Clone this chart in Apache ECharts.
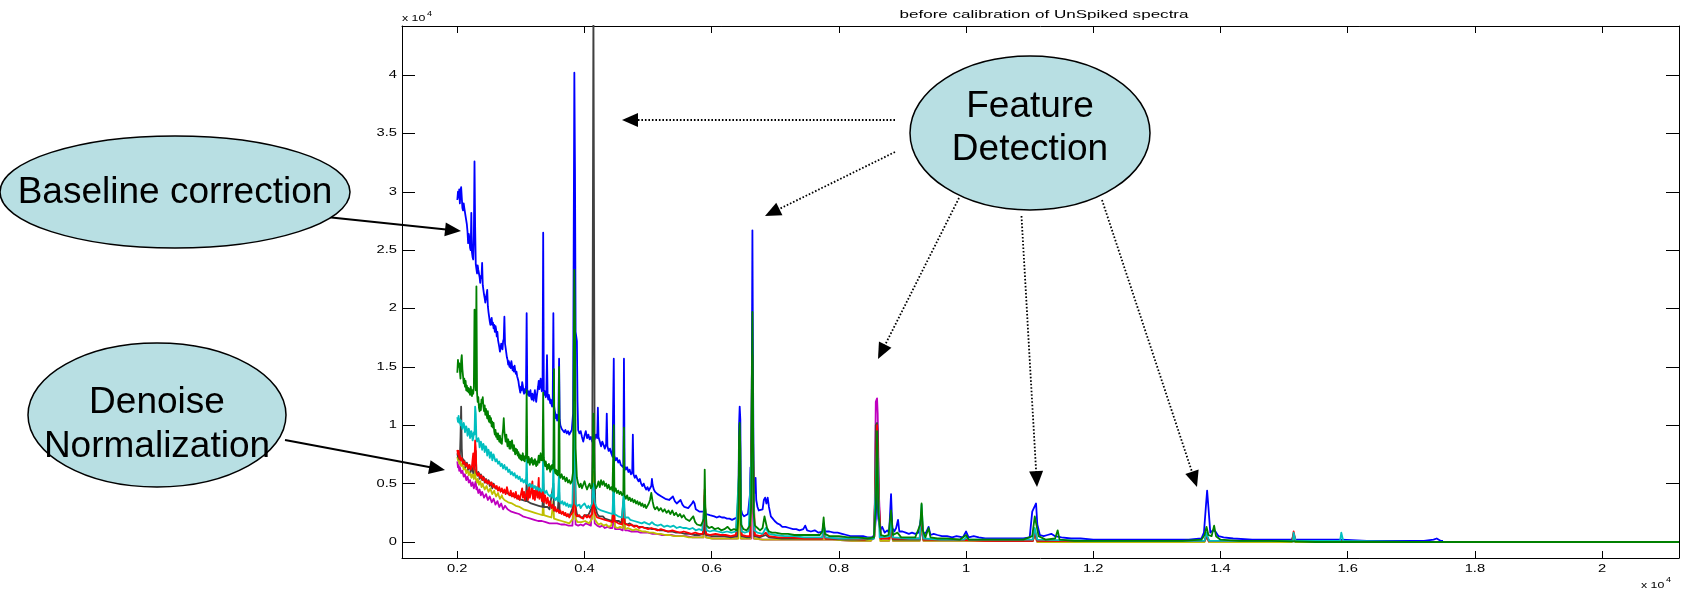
<!DOCTYPE html>
<html>
<head>
<meta charset="utf-8">
<script src="https://cdn.jsdelivr.net/npm/echarts@6/dist/echarts.min.js"></script>
<style>
  html, body { margin: 0; padding: 0; background: #ffffff; }
  #chart { width: 1681px; height: 591px; }
</style>
</head>
<body>
<div id="chart"></div>
<script>
// Spectra intensities, x in units of 1e4 (m/z), y in units of 1e4 (intensity)
const blueSpectrum = [
[0.200,2.93],[0.201,3.00],[0.202,2.95],[0.203,3.02],[0.204,2.90],[0.205,3.01],[0.206,3.04],[0.207,2.95],[0.208,2.86],[0.209,2.84],[0.210,2.90],[0.211,2.86],[0.213,2.79],[0.214,2.80],[0.215,2.72],[0.216,2.66],[0.217,2.56],[0.218,2.64],[0.219,2.60],[0.220,2.52],[0.221,2.50],[0.222,2.82],[0.223,2.48],[0.224,2.44],[0.225,2.42],[0.226,2.62],[0.227,3.26],[0.228,2.70],[0.229,2.38],[0.230,2.34],[0.231,2.30],[0.232,2.37],[0.233,2.33],[0.235,2.27],[0.236,2.22],[0.237,2.28],[0.238,2.26],[0.239,2.39],[0.240,2.20],[0.241,2.16],[0.242,2.12],[0.243,2.09],[0.244,2.05],[0.245,2.09],[0.246,2.12],[0.247,2.16],[0.248,2.02],[0.249,1.97],[0.250,1.93],[0.251,1.89],[0.252,1.86],[0.253,1.90],[0.254,1.92],[0.255,1.86],[0.256,1.88],[0.257,1.83],[0.258,1.86],[0.259,1.80],[0.260,1.85],[0.261,1.82],[0.262,1.76],[0.263,1.80],[0.264,1.73],[0.265,1.70],[0.266,1.67],[0.267,1.63],[0.268,1.66],[0.269,1.70],[0.270,1.68],[0.271,1.65],[0.272,1.72],[0.273,1.74],[0.274,1.93],[0.275,1.70],[0.276,1.66],[0.277,1.62],[0.278,1.58],[0.279,1.56],[0.280,1.52],[0.281,1.55],[0.282,1.50],[0.283,1.53],[0.284,1.49],[0.285,1.55],[0.286,1.51],[0.287,1.47],[0.288,1.50],[0.289,1.46],[0.290,1.51],[0.291,1.47],[0.292,1.44],[0.293,1.46],[0.294,1.42],[0.295,1.40],[0.296,1.38],[0.297,1.34],[0.298,1.31],[0.299,1.28],[0.300,1.33],[0.301,1.30],[0.302,1.37],[0.303,1.34],[0.304,1.29],[0.305,1.27],[0.306,1.31],[0.307,1.28],[0.308,1.34],[0.309,1.96],[0.310,1.30],[0.311,1.26],[0.312,1.29],[0.313,1.25],[0.314,1.27],[0.315,1.30],[0.316,1.24],[0.317,1.22],[0.318,1.27],[0.319,1.25],[0.320,1.21],[0.321,1.26],[0.322,1.30],[0.323,1.24],[0.324,1.20],[0.325,1.25],[0.326,1.29],[0.327,1.33],[0.328,1.38],[0.329,1.31],[0.330,1.36],[0.331,1.40],[0.332,1.33],[0.333,1.29],[0.334,1.34],[0.335,2.65],[0.336,1.30],[0.337,1.26],[0.338,1.29],[0.339,1.24],[0.340,1.28],[0.341,1.60],[0.342,1.25],[0.343,1.22],[0.344,1.26],[0.345,1.23],[0.346,1.19],[0.347,1.22],[0.348,1.18],[0.349,1.16],[0.350,1.20],[0.351,1.96],[0.352,1.17],[0.353,1.13],[0.354,1.10],[0.355,1.06],[0.356,1.09],[0.357,1.04],[0.358,1.07],[0.359,1.10],[0.360,1.57],[0.361,1.05],[0.362,1.00],[0.364,0.97],[0.366,0.98],[0.368,0.94],[0.370,0.96],[0.372,0.93],[0.374,0.95],[0.376,0.92],[0.378,0.94],[0.380,0.96],[0.382,1.10],[0.383,2.60],[0.384,4.02],[0.385,3.20],[0.386,1.80],[0.388,1.72],[0.389,1.20],[0.390,0.96],[0.392,0.93],[0.394,0.95],[0.396,0.90],[0.398,0.86],[0.400,0.91],[0.402,0.95],[0.404,0.89],[0.406,0.92],[0.408,0.88],[0.410,0.90],[0.412,0.86],[0.414,0.95],[0.416,0.88],[0.418,0.92],[0.420,0.89],[0.421,1.15],[0.422,0.90],[0.424,0.86],[0.426,0.82],[0.428,0.86],[0.430,0.83],[0.432,0.80],[0.434,0.84],[0.435,1.10],[0.436,0.82],[0.438,0.78],[0.440,0.80],[0.442,0.76],[0.444,0.73],[0.446,1.57],[0.447,0.74],[0.449,0.70],[0.451,0.72],[0.453,0.68],[0.455,0.70],[0.457,0.66],[0.459,0.67],[0.461,0.64],[0.462,1.57],[0.463,0.65],[0.465,0.62],[0.467,0.64],[0.469,0.60],[0.471,0.62],[0.473,0.58],[0.475,0.60],[0.476,0.92],[0.477,0.58],[0.479,0.55],[0.481,0.57],[0.483,0.54],[0.485,0.52],[0.487,0.54],[0.489,0.50],[0.491,0.48],[0.493,0.50],[0.495,0.47],[0.497,0.45],[0.499,0.47],[0.501,0.44],[0.503,0.46],[0.505,0.48],[0.506,0.54],[0.507,0.49],[0.509,0.45],[0.511,0.43],[0.513,0.44],[0.515,0.41],[0.518,0.42],[0.521,0.39],[0.524,0.40],[0.527,0.37],[0.530,0.38],[0.533,0.36],[0.536,0.37],[0.539,0.39],[0.542,0.35],[0.545,0.33],[0.548,0.34],[0.551,0.36],[0.554,0.32],[0.557,0.30],[0.560,0.31],[0.563,0.29],[0.566,0.30],[0.569,0.33],[0.571,0.35],[0.573,0.33],[0.575,0.28],[0.578,0.27],[0.581,0.26],[0.584,0.25],[0.587,0.26],[0.590,0.27],[0.591,0.24],[0.594,0.24],[0.597,0.23],[0.600,0.23],[0.604,0.22],[0.608,0.21],[0.612,0.22],[0.616,0.21],[0.620,0.21],[0.624,0.20],[0.628,0.20],[0.632,0.19],[0.636,0.20],[0.640,0.21],[0.642,0.30],[0.643,1.00],[0.644,1.16],[0.645,1.05],[0.646,0.28],[0.648,0.24],[0.651,0.22],[0.654,0.22],[0.657,0.24],[0.660,0.40],[0.661,0.64],[0.662,0.45],[0.663,1.30],[0.664,2.67],[0.665,1.40],[0.666,0.50],[0.668,0.42],[0.669,0.55],[0.670,0.36],[0.672,0.30],[0.674,0.27],[0.677,0.26],[0.680,0.28],[0.682,0.36],[0.684,0.38],[0.686,0.33],[0.688,0.38],[0.690,0.30],[0.693,0.22],[0.696,0.20],[0.699,0.18],[0.703,0.16],[0.707,0.15],[0.711,0.13],[0.716,0.13],[0.722,0.12],[0.728,0.11],[0.733,0.11],[0.738,0.10],[0.744,0.11],[0.747,0.14],[0.750,0.10],[0.756,0.09],[0.762,0.10],[0.768,0.08],[0.774,0.09],[0.776,0.16],[0.778,0.09],[0.785,0.09],[0.792,0.08],[0.798,0.08],[0.805,0.07],[0.812,0.06],[0.818,0.05],[0.825,0.05],[0.832,0.05],[0.838,0.05],[0.845,0.04],[0.852,0.04],[0.856,0.06],[0.858,0.20],[0.860,0.55],[0.862,0.20],[0.865,0.10],[0.868,0.13],[0.872,0.08],[0.876,0.10],[0.879,0.08],[0.882,0.41],[0.884,0.12],[0.887,0.09],[0.890,0.12],[0.893,0.19],[0.895,0.09],[0.900,0.09],[0.905,0.08],[0.910,0.07],[0.915,0.08],[0.920,0.07],[0.925,0.08],[0.929,0.20],[0.932,0.07],[0.937,0.08],[0.941,0.13],[0.944,0.06],[0.949,0.07],[0.955,0.06],[0.962,0.05],[0.970,0.05],[0.978,0.04],[0.985,0.05],[0.995,0.04],[1.000,0.09],[1.004,0.04],[1.012,0.05],[1.020,0.04],[1.030,0.03],[1.045,0.03],[1.060,0.03],[1.075,0.03],[1.090,0.03],[1.100,0.04],[1.104,0.26],[1.107,0.27],[1.110,0.33],[1.112,0.15],[1.116,0.06],[1.122,0.05],[1.128,0.06],[1.134,0.07],[1.140,0.05],[1.150,0.04],[1.165,0.03],[1.180,0.03],[1.200,0.02],[1.230,0.02],[1.260,0.02],[1.290,0.02],[1.320,0.02],[1.350,0.02],[1.370,0.03],[1.374,0.08],[1.377,0.30],[1.379,0.44],[1.381,0.30],[1.384,0.08],[1.388,0.10],[1.392,0.09],[1.397,0.05],[1.405,0.04],[1.420,0.03],[1.450,0.02],[1.480,0.02],[1.515,0.02],[1.550,0.02],[1.590,0.02],[1.630,0.01],[1.680,0.01],[1.720,0.01],[1.735,0.02],[1.740,0.03],[1.746,0.01],[1.750,0.01]
];

const magentaSpectrum = [
[0.200,0.69],[0.201,0.64],[0.202,0.66],[0.203,0.61],[0.204,0.64],[0.205,0.63],[0.206,0.59],[0.207,0.58],[0.208,0.61],[0.209,0.60],[0.210,0.56],[0.211,0.55],[0.212,0.58],[0.213,0.57],[0.214,0.53],[0.215,0.53],[0.216,0.56],[0.217,0.54],[0.218,0.51],[0.219,0.50],[0.220,0.53],[0.221,0.52],[0.222,0.48],[0.223,0.48],[0.224,0.51],[0.225,0.50],[0.226,0.46],[0.227,0.46],[0.229,0.52],[0.230,0.45],[0.231,0.47],[0.232,0.46],[0.233,0.42],[0.234,0.43],[0.235,0.45],[0.236,0.44],[0.237,0.40],[0.238,0.41],[0.239,0.43],[0.240,0.42],[0.242,0.38],[0.243,0.39],[0.245,0.41],[0.246,0.40],[0.248,0.36],[0.249,0.37],[0.251,0.39],[0.252,0.38],[0.254,0.34],[0.255,0.35],[0.257,0.37],[0.258,0.36],[0.260,0.32],[0.261,0.33],[0.263,0.35],[0.264,0.34],[0.266,0.30],[0.267,0.31],[0.269,0.33],[0.270,0.32],[0.272,0.28],[0.273,0.29],[0.275,0.31],[0.276,0.30],[0.279,0.28],[0.282,0.28],[0.285,0.26],[0.288,0.27],[0.291,0.25],[0.294,0.25],[0.297,0.24],[0.300,0.24],[0.303,0.22],[0.306,0.23],[0.309,0.21],[0.312,0.22],[0.315,0.20],[0.318,0.21],[0.321,0.19],[0.324,0.20],[0.327,0.18],[0.330,0.19],[0.333,0.18],[0.336,0.18],[0.339,0.17],[0.342,0.17],[0.345,0.16],[0.348,0.17],[0.351,0.16],[0.354,0.15],[0.357,0.16],[0.360,0.15],[0.363,0.15],[0.366,0.14],[0.369,0.15],[0.372,0.14],[0.375,0.14],[0.378,0.13],[0.381,0.14],[0.384,0.60],[0.386,0.15],[0.390,0.14],[0.394,0.15],[0.398,0.14],[0.402,0.16],[0.406,0.15],[0.410,0.14],[0.413,0.14],[0.414,0.50],[0.416,0.16],[0.420,0.14],[0.424,0.13],[0.428,0.14],[0.432,0.12],[0.436,0.13],[0.440,0.12],[0.444,0.12],[0.446,0.25],[0.448,0.11],[0.452,0.11],[0.456,0.11],[0.460,0.10],[0.462,0.22],[0.464,0.10],[0.468,0.10],[0.473,0.09],[0.478,0.09],[0.483,0.09],[0.488,0.08],[0.494,0.08],[0.500,0.08],[0.507,0.07],[0.514,0.07],[0.521,0.06],[0.528,0.06],[0.536,0.06],[0.544,0.05],[0.552,0.05],[0.560,0.05],[0.570,0.04],[0.580,0.04],[0.587,0.04],[0.589,0.20],[0.591,0.04],[0.602,0.03],[0.615,0.03],[0.628,0.03],[0.640,0.03],[0.642,0.03],[0.644,0.40],[0.646,0.03],[0.655,0.03],[0.662,0.03],[0.664,0.90],[0.666,0.03],[0.680,0.02],[0.700,0.02],[0.730,0.02],[0.760,0.02],[0.790,0.02],[0.820,0.01],[0.850,0.01],[0.856,0.05],[0.857,0.70],[0.858,1.20],[0.860,1.23],[0.861,1.10],[0.863,0.40],[0.866,0.01],[0.879,0.01],[0.882,0.08],[0.885,0.01],[0.927,0.01],[0.930,0.12],[0.933,0.01],[1.000,0.01],[1.104,0.01],[1.108,0.05],[1.112,0.00],[1.374,0.00],[1.378,0.04],[1.382,0.00],[1.512,0.00],[1.515,0.04],[1.518,0.00],[1.700,0.00],[1.890,0.00]
];

const yellowSpectrum = [
[0.200,0.73],[0.201,0.70],[0.202,0.72],[0.203,0.67],[0.204,0.70],[0.205,0.69],[0.206,0.65],[0.207,0.64],[0.208,0.67],[0.209,0.65],[0.210,0.62],[0.211,0.61],[0.212,0.64],[0.213,0.63],[0.214,0.59],[0.215,0.59],[0.216,0.62],[0.217,0.60],[0.218,0.57],[0.219,0.57],[0.220,0.60],[0.221,0.58],[0.222,0.55],[0.223,0.55],[0.224,0.58],[0.225,0.57],[0.226,0.54],[0.227,0.53],[0.228,0.62],[0.229,0.54],[0.230,0.53],[0.231,0.51],[0.232,0.54],[0.233,0.52],[0.234,0.49],[0.235,0.49],[0.236,0.52],[0.237,0.50],[0.238,0.47],[0.239,0.47],[0.240,0.50],[0.241,0.48],[0.243,0.45],[0.244,0.45],[0.246,0.48],[0.247,0.46],[0.249,0.43],[0.250,0.43],[0.252,0.46],[0.253,0.44],[0.255,0.41],[0.256,0.41],[0.258,0.44],[0.259,0.42],[0.261,0.39],[0.262,0.39],[0.264,0.42],[0.265,0.40],[0.267,0.37],[0.268,0.37],[0.270,0.40],[0.271,0.38],[0.274,0.36],[0.277,0.36],[0.280,0.34],[0.283,0.35],[0.286,0.33],[0.289,0.33],[0.292,0.31],[0.295,0.32],[0.298,0.30],[0.301,0.30],[0.304,0.28],[0.307,0.29],[0.310,0.27],[0.313,0.27],[0.316,0.26],[0.319,0.26],[0.322,0.25],[0.325,0.25],[0.328,0.24],[0.331,0.24],[0.334,0.23],[0.335,0.40],[0.336,0.23],[0.339,0.22],[0.342,0.22],[0.345,0.21],[0.348,0.21],[0.351,0.35],[0.352,0.20],[0.355,0.20],[0.358,0.19],[0.361,0.19],[0.364,0.18],[0.367,0.18],[0.370,0.17],[0.373,0.17],[0.376,0.16],[0.379,0.16],[0.382,0.20],[0.384,0.70],[0.386,0.20],[0.389,0.17],[0.392,0.16],[0.395,0.17],[0.398,0.16],[0.401,0.18],[0.404,0.17],[0.407,0.16],[0.410,0.17],[0.412,0.20],[0.414,0.60],[0.416,0.20],[0.419,0.17],[0.422,0.15],[0.426,0.16],[0.430,0.14],[0.434,0.15],[0.438,0.13],[0.442,0.14],[0.446,0.30],[0.448,0.13],[0.452,0.12],[0.456,0.13],[0.460,0.12],[0.462,0.28],[0.464,0.11],[0.468,0.12],[0.472,0.11],[0.476,0.10],[0.481,0.11],[0.486,0.10],[0.491,0.09],[0.496,0.09],[0.502,0.08],[0.508,0.08],[0.514,0.07],[0.520,0.07],[0.527,0.06],[0.534,0.06],[0.541,0.05],[0.548,0.05],[0.556,0.05],[0.564,0.04],[0.572,0.04],[0.580,0.04],[0.587,0.04],[0.589,0.25],[0.591,0.04],[0.600,0.03],[0.612,0.03],[0.624,0.03],[0.636,0.03],[0.642,0.03],[0.644,0.50],[0.646,0.03],[0.655,0.03],[0.661,0.03],[0.663,0.70],[0.664,1.00],[0.665,0.50],[0.667,0.03],[0.680,0.02],[0.700,0.02],[0.730,0.02],[0.760,0.02],[0.790,0.02],[0.820,0.01],[0.850,0.01],[0.856,0.05],[0.858,0.70],[0.860,0.95],[0.862,0.40],[0.865,0.01],[0.879,0.01],[0.882,0.10],[0.885,0.01],[0.927,0.01],[0.930,0.15],[0.933,0.01],[1.000,0.01],[1.105,0.01],[1.108,0.06],[1.112,0.00],[1.375,0.00],[1.378,0.05],[1.382,0.00],[1.512,0.00],[1.515,0.05],[1.518,0.00],[1.700,0.00],[1.890,0.00]
];

const graySpectrum = [
[0.200,0.76],[0.201,0.73],[0.202,0.75],[0.203,0.71],[0.204,0.73],[0.205,0.90],[0.206,1.16],[0.207,0.80],[0.208,0.69],[0.209,0.71],[0.210,0.67],[0.211,0.70],[0.212,0.68],[0.213,0.64],[0.214,0.65],[0.215,0.68],[0.216,0.66],[0.217,0.62],[0.218,0.63],[0.219,0.66],[0.220,0.64],[0.221,0.60],[0.222,0.61],[0.223,0.64],[0.224,0.63],[0.225,0.59],[0.226,0.60],[0.228,0.70],[0.229,0.78],[0.230,0.59],[0.231,0.60],[0.232,0.57],[0.233,0.60],[0.234,0.58],[0.235,0.54],[0.236,0.55],[0.237,0.58],[0.238,0.56],[0.239,0.53],[0.240,0.54],[0.241,0.56],[0.242,0.55],[0.243,0.51],[0.244,0.52],[0.245,0.54],[0.246,0.53],[0.247,0.50],[0.248,0.51],[0.249,0.53],[0.250,0.52],[0.251,0.48],[0.252,0.49],[0.253,0.51],[0.254,0.50],[0.255,0.46],[0.256,0.48],[0.257,0.50],[0.258,0.49],[0.260,0.46],[0.263,0.47],[0.266,0.45],[0.269,0.46],[0.272,0.43],[0.275,0.44],[0.278,0.42],[0.281,0.43],[0.284,0.40],[0.287,0.41],[0.290,0.39],[0.293,0.40],[0.296,0.37],[0.299,0.38],[0.302,0.36],[0.305,0.37],[0.308,0.35],[0.309,0.55],[0.310,0.35],[0.313,0.34],[0.316,0.33],[0.319,0.34],[0.322,0.32],[0.325,0.33],[0.328,0.31],[0.331,0.32],[0.334,0.30],[0.335,0.60],[0.336,0.30],[0.339,0.29],[0.342,0.30],[0.345,0.28],[0.348,0.29],[0.351,0.50],[0.352,0.27],[0.355,0.26],[0.358,0.27],[0.360,0.45],[0.361,0.25],[0.364,0.24],[0.367,0.25],[0.370,0.23],[0.373,0.24],[0.376,0.22],[0.379,0.23],[0.382,0.30],[0.383,0.90],[0.384,1.40],[0.385,1.00],[0.386,0.30],[0.388,0.24],[0.391,0.22],[0.394,0.23],[0.397,0.21],[0.400,0.23],[0.403,0.22],[0.406,0.23],[0.409,0.22],[0.412,0.30],[0.413,2.50],[0.414,4.60],[0.415,4.60],[0.416,0.60],[0.417,0.30],[0.420,0.24],[0.423,0.22],[0.426,0.21],[0.429,0.22],[0.432,0.20],[0.435,0.21],[0.438,0.19],[0.441,0.20],[0.444,0.18],[0.446,0.50],[0.447,0.18],[0.450,0.17],[0.454,0.18],[0.458,0.16],[0.462,0.40],[0.463,0.16],[0.467,0.15],[0.471,0.16],[0.475,0.14],[0.480,0.14],[0.485,0.13],[0.490,0.13],[0.495,0.12],[0.500,0.12],[0.506,0.11],[0.512,0.11],[0.518,0.10],[0.524,0.10],[0.530,0.09],[0.537,0.09],[0.544,0.08],[0.551,0.08],[0.558,0.07],[0.565,0.07],[0.572,0.06],[0.580,0.06],[0.588,0.07],[0.589,0.40],[0.591,0.06],[0.600,0.05],[0.610,0.05],[0.620,0.05],[0.630,0.04],[0.640,0.05],[0.643,0.60],[0.644,0.90],[0.645,0.40],[0.647,0.05],[0.655,0.04],[0.660,0.04],[0.662,0.80],[0.663,1.40],[0.664,1.60],[0.665,0.90],[0.667,0.05],[0.675,0.04],[0.685,0.06],[0.690,0.04],[0.710,0.03],[0.730,0.03],[0.760,0.03],[0.774,0.03],[0.776,0.10],[0.779,0.03],[0.810,0.02],[0.840,0.02],[0.855,0.03],[0.857,0.40],[0.858,1.00],[0.860,1.02],[0.861,0.95],[0.863,0.30],[0.866,0.03],[0.879,0.03],[0.882,0.12],[0.885,0.02],[0.927,0.02],[0.930,0.20],[0.933,0.02],[0.990,0.02],[1.050,0.01],[1.105,0.01],[1.108,0.08],[1.112,0.01],[1.250,0.01],[1.375,0.01],[1.378,0.05],[1.382,0.01],[1.500,0.01],[1.512,0.01],[1.515,0.07],[1.518,0.01],[1.700,0.00],[1.890,0.00]
];

const redSpectrum = [
[0.200,0.79],[0.201,0.75],[0.202,0.78],[0.203,0.72],[0.204,0.74],[0.205,0.70],[0.207,0.72],[0.209,0.67],[0.211,0.69],[0.213,0.65],[0.215,0.67],[0.217,0.63],[0.219,0.66],[0.221,0.62],[0.223,0.65],[0.225,0.76],[0.226,0.62],[0.227,0.70],[0.228,0.87],[0.229,0.80],[0.230,0.60],[0.232,0.57],[0.234,0.59],[0.236,0.55],[0.238,0.57],[0.240,0.53],[0.242,0.55],[0.244,0.51],[0.246,0.53],[0.248,0.50],[0.250,0.52],[0.252,0.49],[0.254,0.51],[0.256,0.47],[0.258,0.49],[0.260,0.46],[0.262,0.48],[0.264,0.44],[0.266,0.47],[0.268,0.43],[0.270,0.46],[0.272,0.42],[0.274,0.45],[0.276,0.41],[0.278,0.47],[0.280,0.42],[0.282,0.40],[0.284,0.44],[0.286,0.39],[0.288,0.42],[0.290,0.38],[0.292,0.43],[0.294,0.37],[0.296,0.40],[0.298,0.36],[0.300,0.41],[0.302,0.46],[0.303,0.38],[0.305,0.43],[0.306,0.36],[0.308,0.40],[0.310,0.44],[0.311,0.36],[0.313,0.48],[0.314,0.38],[0.316,0.42],[0.318,0.52],[0.319,0.37],[0.321,0.44],[0.322,0.36],[0.324,0.47],[0.326,0.38],[0.328,0.55],[0.329,0.37],[0.331,0.43],[0.333,0.35],[0.335,0.50],[0.336,0.34],[0.338,0.40],[0.340,0.33],[0.342,0.38],[0.344,0.31],[0.346,0.35],[0.348,0.29],[0.350,0.32],[0.352,0.27],[0.354,0.30],[0.356,0.26],[0.358,0.28],[0.360,0.25],[0.362,0.27],[0.364,0.24],[0.366,0.26],[0.368,0.23],[0.370,0.25],[0.372,0.22],[0.374,0.24],[0.376,0.21],[0.378,0.23],[0.380,0.22],[0.382,0.26],[0.383,0.60],[0.384,0.90],[0.385,0.50],[0.386,0.24],[0.388,0.22],[0.390,0.21],[0.392,0.23],[0.394,0.21],[0.396,0.22],[0.398,0.20],[0.400,0.23],[0.402,0.24],[0.404,0.21],[0.406,0.23],[0.408,0.21],[0.410,0.22],[0.412,0.24],[0.414,0.40],[0.416,0.26],[0.418,0.23],[0.420,0.21],[0.423,0.22],[0.426,0.20],[0.429,0.21],[0.432,0.19],[0.435,0.20],[0.438,0.18],[0.441,0.19],[0.444,0.17],[0.446,0.40],[0.447,0.18],[0.450,0.17],[0.453,0.16],[0.456,0.17],[0.459,0.15],[0.462,0.35],[0.463,0.16],[0.466,0.15],[0.470,0.14],[0.474,0.15],[0.478,0.13],[0.482,0.14],[0.486,0.12],[0.490,0.13],[0.495,0.12],[0.500,0.11],[0.505,0.12],[0.510,0.11],[0.515,0.10],[0.520,0.11],[0.526,0.10],[0.532,0.09],[0.538,0.10],[0.544,0.09],[0.550,0.08],[0.556,0.09],[0.562,0.08],[0.568,0.07],[0.574,0.08],[0.580,0.07],[0.586,0.07],[0.589,0.45],[0.591,0.07],[0.598,0.06],[0.606,0.07],[0.614,0.06],[0.622,0.06],[0.630,0.05],[0.638,0.06],[0.643,0.50],[0.644,0.70],[0.645,0.30],[0.647,0.06],[0.655,0.05],[0.660,0.05],[0.662,0.60],[0.664,1.10],[0.666,0.40],[0.668,0.06],[0.676,0.05],[0.685,0.08],[0.690,0.05],[0.705,0.04],[0.725,0.04],[0.745,0.03],[0.765,0.03],[0.774,0.03],[0.776,0.12],[0.779,0.03],[0.810,0.03],[0.840,0.02],[0.855,0.04],[0.858,0.60],[0.860,1.00],[0.862,0.50],[0.865,0.03],[0.879,0.03],[0.882,0.15],[0.885,0.03],[0.927,0.03],[0.930,0.25],[0.933,0.02],[0.980,0.02],[1.030,0.01],[1.105,0.01],[1.108,0.10],[1.112,0.01],[1.200,0.01],[1.300,0.01],[1.375,0.01],[1.378,0.06],[1.382,0.01],[1.460,0.01],[1.513,0.01],[1.515,0.09],[1.518,0.01],[1.600,0.00],[1.750,0.00],[1.890,0.00]
];

const cyanSpectrum = [
[0.200,1.07],[0.201,1.03],[0.202,1.08],[0.203,1.02],[0.204,1.05],[0.205,1.00],[0.206,1.04],[0.207,1.03],[0.208,0.97],[0.209,0.98],[0.210,1.02],[0.211,1.00],[0.212,0.94],[0.213,0.95],[0.214,0.99],[0.215,0.97],[0.216,0.91],[0.217,0.93],[0.218,0.97],[0.219,0.95],[0.220,0.89],[0.221,0.91],[0.222,0.95],[0.223,0.93],[0.224,0.87],[0.225,0.89],[0.226,0.94],[0.227,0.92],[0.228,1.16],[0.229,1.10],[0.230,0.88],[0.231,0.86],[0.232,0.85],[0.233,0.89],[0.234,0.87],[0.235,0.81],[0.236,0.82],[0.237,0.86],[0.238,0.84],[0.239,0.79],[0.240,0.80],[0.241,0.84],[0.242,0.82],[0.243,0.77],[0.244,0.78],[0.245,0.82],[0.246,0.80],[0.247,0.74],[0.248,0.75],[0.249,0.79],[0.250,0.77],[0.251,0.72],[0.252,0.73],[0.253,0.77],[0.254,0.75],[0.255,0.70],[0.256,0.71],[0.257,0.75],[0.258,0.73],[0.260,0.69],[0.262,0.71],[0.264,0.67],[0.266,0.69],[0.268,0.65],[0.270,0.67],[0.272,0.63],[0.274,0.66],[0.276,0.62],[0.278,0.64],[0.280,0.60],[0.282,0.62],[0.284,0.58],[0.286,0.60],[0.288,0.57],[0.290,0.59],[0.292,0.55],[0.294,0.57],[0.296,0.54],[0.298,0.56],[0.300,0.52],[0.302,0.54],[0.304,0.51],[0.306,0.53],[0.308,0.50],[0.309,0.75],[0.310,0.50],[0.312,0.48],[0.314,0.50],[0.316,0.47],[0.318,0.49],[0.320,0.46],[0.322,0.48],[0.324,0.45],[0.326,0.47],[0.328,0.44],[0.330,0.46],[0.332,0.43],[0.334,0.45],[0.335,0.80],[0.336,0.44],[0.338,0.42],[0.340,0.44],[0.342,0.41],[0.344,0.42],[0.346,0.39],[0.348,0.41],[0.350,0.38],[0.351,0.70],[0.352,0.38],[0.354,0.36],[0.356,0.38],[0.358,0.35],[0.360,0.60],[0.361,0.35],[0.363,0.33],[0.365,0.35],[0.367,0.32],[0.369,0.34],[0.371,0.31],[0.373,0.33],[0.375,0.30],[0.377,0.32],[0.379,0.30],[0.381,0.33],[0.383,0.80],[0.384,1.20],[0.385,0.60],[0.386,0.33],[0.388,0.31],[0.390,0.30],[0.392,0.32],[0.394,0.29],[0.396,0.31],[0.398,0.30],[0.400,0.33],[0.402,0.31],[0.404,0.29],[0.406,0.31],[0.408,0.29],[0.410,0.31],[0.412,0.33],[0.414,0.50],[0.416,0.34],[0.418,0.31],[0.420,0.29],[0.423,0.28],[0.426,0.27],[0.429,0.28],[0.432,0.26],[0.435,0.27],[0.438,0.25],[0.441,0.26],[0.444,0.24],[0.446,0.55],[0.447,0.24],[0.450,0.23],[0.453,0.22],[0.456,0.23],[0.459,0.21],[0.462,0.45],[0.463,0.21],[0.466,0.20],[0.469,0.21],[0.472,0.19],[0.475,0.20],[0.478,0.18],[0.481,0.19],[0.484,0.17],[0.487,0.18],[0.490,0.16],[0.494,0.17],[0.498,0.16],[0.502,0.15],[0.506,0.17],[0.510,0.15],[0.515,0.14],[0.520,0.15],[0.525,0.13],[0.530,0.14],[0.535,0.13],[0.540,0.14],[0.545,0.12],[0.550,0.13],[0.555,0.12],[0.560,0.12],[0.565,0.11],[0.570,0.12],[0.575,0.10],[0.580,0.11],[0.585,0.10],[0.587,0.10],[0.589,0.35],[0.592,0.10],[0.597,0.09],[0.603,0.10],[0.610,0.09],[0.617,0.08],[0.624,0.09],[0.631,0.08],[0.638,0.09],[0.643,0.60],[0.644,0.80],[0.645,0.50],[0.647,0.09],[0.652,0.08],[0.658,0.09],[0.661,0.09],[0.663,0.80],[0.664,1.20],[0.665,0.60],[0.667,0.10],[0.672,0.08],[0.680,0.07],[0.685,0.12],[0.690,0.07],[0.700,0.06],[0.715,0.05],[0.730,0.05],[0.745,0.04],[0.760,0.04],[0.774,0.04],[0.776,0.15],[0.779,0.04],[0.800,0.03],[0.830,0.03],[0.855,0.03],[0.858,0.03],[0.860,0.85],[0.864,0.04],[0.880,0.05],[0.882,0.20],[0.885,0.04],[0.910,0.03],[0.927,0.03],[0.930,0.32],[0.933,0.03],[0.960,0.02],[0.997,0.02],[1.000,0.04],[1.004,0.02],[1.060,0.02],[1.105,0.02],[1.108,0.12],[1.112,0.02],[1.200,0.01],[1.300,0.01],[1.375,0.01],[1.378,0.08],[1.382,0.01],[1.450,0.01],[1.514,0.01],[1.515,0.08],[1.518,0.01],[1.588,0.01],[1.590,0.08],[1.593,0.01],[1.700,0.00],[1.800,0.00],[1.890,0.00]
];

const greenSpectrum = [
[0.200,1.45],[0.201,1.56],[0.202,1.50],[0.203,1.53],[0.204,1.47],[0.205,1.40],[0.206,1.55],[0.207,1.60],[0.208,1.48],[0.209,1.42],[0.210,1.36],[0.211,1.40],[0.212,1.33],[0.213,1.38],[0.214,1.30],[0.215,1.34],[0.216,1.29],[0.217,1.32],[0.218,1.28],[0.219,1.31],[0.220,1.26],[0.221,1.33],[0.222,1.29],[0.223,1.25],[0.224,1.30],[0.225,1.27],[0.226,1.33],[0.227,1.99],[0.228,1.95],[0.229,1.30],[0.230,2.19],[0.231,1.28],[0.232,1.20],[0.233,1.24],[0.234,1.15],[0.235,1.12],[0.236,1.18],[0.237,1.13],[0.238,1.22],[0.239,1.19],[0.240,1.24],[0.241,1.16],[0.242,1.12],[0.243,1.17],[0.244,1.09],[0.245,1.14],[0.246,1.10],[0.247,1.06],[0.248,1.12],[0.249,1.05],[0.250,1.03],[0.251,1.08],[0.252,1.02],[0.253,1.06],[0.254,0.99],[0.255,1.03],[0.256,0.98],[0.257,1.02],[0.258,0.95],[0.259,0.92],[0.260,0.96],[0.261,0.90],[0.262,0.93],[0.263,0.88],[0.264,0.93],[0.265,0.89],[0.266,0.86],[0.267,0.91],[0.268,0.85],[0.269,0.88],[0.270,0.84],[0.271,0.92],[0.272,0.97],[0.273,1.06],[0.274,0.95],[0.275,0.90],[0.276,0.86],[0.277,0.92],[0.278,0.86],[0.279,0.82],[0.280,0.88],[0.281,0.84],[0.282,0.80],[0.283,0.86],[0.284,0.80],[0.285,0.84],[0.286,0.87],[0.287,0.82],[0.288,0.78],[0.289,0.83],[0.290,0.79],[0.291,0.75],[0.292,0.80],[0.293,0.76],[0.294,0.79],[0.295,0.74],[0.296,0.77],[0.297,0.72],[0.298,0.75],[0.299,0.71],[0.300,0.74],[0.301,0.70],[0.302,0.73],[0.303,0.76],[0.304,0.70],[0.305,0.73],[0.306,0.69],[0.307,0.74],[0.308,0.72],[0.309,1.30],[0.310,0.72],[0.311,0.68],[0.312,0.73],[0.313,0.70],[0.314,0.66],[0.315,0.71],[0.316,0.68],[0.317,0.72],[0.318,0.69],[0.319,0.66],[0.320,0.70],[0.321,0.67],[0.322,0.71],[0.323,0.68],[0.324,0.65],[0.325,0.69],[0.326,0.66],[0.327,0.70],[0.328,0.74],[0.329,0.68],[0.330,0.72],[0.331,0.76],[0.332,0.70],[0.333,0.74],[0.334,0.70],[0.335,1.28],[0.336,0.72],[0.337,0.68],[0.338,0.65],[0.339,0.69],[0.340,0.66],[0.341,0.62],[0.342,0.66],[0.343,0.63],[0.344,0.67],[0.345,0.64],[0.346,0.60],[0.347,0.65],[0.348,0.62],[0.349,0.66],[0.350,0.63],[0.351,0.65],[0.352,1.48],[0.353,0.62],[0.354,0.59],[0.355,0.62],[0.356,0.58],[0.357,0.61],[0.358,0.57],[0.359,0.60],[0.360,1.50],[0.361,0.58],[0.362,0.55],[0.364,0.58],[0.366,0.54],[0.368,0.56],[0.370,0.52],[0.372,0.55],[0.374,0.51],[0.376,0.53],[0.378,0.50],[0.380,0.52],[0.382,0.60],[0.383,1.50],[0.384,2.33],[0.385,1.90],[0.386,0.80],[0.388,0.55],[0.390,0.50],[0.392,0.47],[0.394,0.50],[0.396,0.46],[0.398,0.49],[0.400,0.52],[0.402,0.48],[0.404,0.45],[0.406,0.48],[0.408,0.50],[0.410,0.46],[0.412,0.48],[0.413,0.70],[0.414,1.10],[0.415,0.80],[0.416,0.50],[0.418,0.46],[0.420,0.48],[0.422,0.52],[0.424,0.47],[0.426,0.53],[0.428,0.49],[0.430,0.52],[0.432,0.48],[0.434,0.50],[0.436,0.46],[0.438,0.49],[0.440,0.45],[0.442,0.47],[0.444,0.44],[0.446,1.00],[0.447,0.43],[0.449,0.46],[0.451,0.42],[0.453,0.44],[0.455,0.41],[0.457,0.43],[0.459,0.40],[0.461,0.42],[0.462,0.98],[0.463,0.40],[0.465,0.37],[0.467,0.40],[0.469,0.36],[0.471,0.38],[0.473,0.35],[0.475,0.37],[0.477,0.34],[0.479,0.36],[0.481,0.33],[0.483,0.35],[0.485,0.32],[0.487,0.34],[0.489,0.31],[0.491,0.33],[0.493,0.30],[0.495,0.32],[0.497,0.29],[0.499,0.31],[0.501,0.33],[0.503,0.36],[0.505,0.42],[0.507,0.35],[0.509,0.30],[0.511,0.28],[0.514,0.30],[0.517,0.27],[0.520,0.29],[0.523,0.26],[0.526,0.28],[0.529,0.25],[0.532,0.27],[0.535,0.24],[0.538,0.27],[0.541,0.23],[0.544,0.25],[0.547,0.22],[0.550,0.24],[0.553,0.21],[0.556,0.23],[0.559,0.20],[0.562,0.21],[0.565,0.18],[0.568,0.20],[0.571,0.22],[0.574,0.17],[0.577,0.15],[0.580,0.16],[0.583,0.14],[0.586,0.15],[0.588,0.20],[0.589,0.62],[0.590,0.30],[0.592,0.14],[0.596,0.12],[0.600,0.13],[0.605,0.11],[0.610,0.12],[0.615,0.10],[0.620,0.11],[0.625,0.13],[0.630,0.10],[0.635,0.11],[0.640,0.10],[0.642,0.20],[0.643,0.90],[0.644,1.02],[0.645,0.80],[0.646,0.15],[0.650,0.11],[0.655,0.10],[0.660,0.14],[0.662,0.30],[0.663,1.20],[0.664,1.97],[0.665,1.10],[0.666,0.25],[0.668,0.14],[0.672,0.12],[0.676,0.10],[0.680,0.12],[0.683,0.22],[0.685,0.23],[0.687,0.12],[0.690,0.09],[0.695,0.08],[0.700,0.08],[0.710,0.07],[0.720,0.07],[0.730,0.06],[0.740,0.06],[0.750,0.06],[0.760,0.06],[0.770,0.06],[0.774,0.09],[0.776,0.21],[0.778,0.07],[0.785,0.05],[0.800,0.05],[0.815,0.04],[0.830,0.04],[0.845,0.03],[0.855,0.04],[0.858,0.30],[0.860,0.95],[0.862,0.25],[0.866,0.06],[0.872,0.05],[0.878,0.06],[0.882,0.27],[0.885,0.06],[0.892,0.08],[0.898,0.04],[0.910,0.04],[0.920,0.04],[0.928,0.15],[0.930,0.33],[0.932,0.10],[0.936,0.04],[0.941,0.12],[0.944,0.04],[0.955,0.03],[0.970,0.03],[0.990,0.02],[1.000,0.06],[1.004,0.02],[1.030,0.02],[1.060,0.02],[1.090,0.02],[1.104,0.05],[1.108,0.22],[1.111,0.23],[1.114,0.05],[1.125,0.02],[1.140,0.03],[1.144,0.10],[1.147,0.02],[1.170,0.01],[1.220,0.01],[1.280,0.01],[1.340,0.01],[1.370,0.02],[1.375,0.06],[1.378,0.13],[1.381,0.06],[1.386,0.05],[1.390,0.14],[1.393,0.05],[1.400,0.02],[1.430,0.01],[1.480,0.01],[1.550,0.00],[1.650,0.00],[1.750,0.00],[1.850,0.00],[1.950,0.00],[2.050,0.00],[2.121,0.00]
];

// Axis ranges and tick marks (units of 1e4)
const xRange = [0.113, 2.121];
const yRange = [-0.137, 4.42];
const xTicks = [0.2, 0.4, 0.6, 0.8, 1.0, 1.2, 1.4, 1.6, 1.8, 2.0];
const xTickLabels = ['0.2', '0.4', '0.6', '0.8', '1', '1.2', '1.4', '1.6', '1.8', '2'];
const yTicks = [0, 0.5, 1, 1.5, 2, 2.5, 3, 3.5, 4];
const yTickLabels = ['0', '0.5', '1', '1.5', '2', '2.5', '3', '3.5', '4'];
const chartTitle = 'before calibration of UnSpiked spectra';

// Drawing order: later entries sit on top
const spectra = [
  { data: blueSpectrum, color: '#0000ff' },
  { data: magentaSpectrum, color: '#bf00bf' },
  { data: yellowSpectrum, color: '#bfbf00' },
  { data: graySpectrum, color: '#404040' },
  { data: redSpectrum, color: '#ff0000' },
  { data: cyanSpectrum, color: '#00bfbf' },
  { data: greenSpectrum, color: '#008000' }
];

// Processing-step callouts
const bubbleFill = '#b8dfe3';
const callouts = [
  { cx: 175, cy: 192, rx: 175, ry: 56, lines: ['Baseline correction'], lineY: [193] },
  { cx: 157, cy: 415, rx: 129, ry: 72, lines: ['Denoise', 'Normalization'], lineY: [403, 447] },
  { cx: 1030, cy: 133, rx: 120, ry: 77, lines: ['Feature', 'Detection'], lineY: [107, 150] }
];
const solidArrows = [
  [317, 216, 461, 231],
  [285, 440, 445, 470]
];
const dottedArrows = [
  [895, 120, 622, 120],
  [895, 152, 765, 216],
  [959, 198, 878, 359],
  [1021.5, 216, 1037, 487],
  [1102, 200, 1197, 487]
];

const chart = echarts.init(document.getElementById('chart'), null, { renderer: 'canvas' });

function frameAxis(pos, isX, tickLen, ticks) {
  return {
    type: 'value',
    position: pos,
    min: isX ? xRange[0] : yRange[0],
    max: isX ? xRange[1] : yRange[1],
    axisLine: { show: true, onZero: false, lineStyle: { color: '#000', width: 1 } },
    axisTick: { show: true, inside: true, length: tickLen, customValues: ticks,
                lineStyle: { color: '#000', width: 1 } },
    axisLabel: { show: false },
    splitLine: { show: false },
    minorTick: { show: false }
  };
}

chart.setOption({
  animation: false,
  backgroundColor: '#ffffff',
  grid: { left: 402, right: 2, top: 26, bottom: 33, outerBoundsMode: 'none', containLabel: false },
  xAxis: [frameAxis('bottom', true, 7, xTicks), frameAxis('top', true, 7, xTicks)],
  yAxis: [frameAxis('left', false, 13, yTicks), frameAxis('right', false, 13, yTicks)],
  series: spectra.map(s => ({
    type: 'line',
    xAxisIndex: 0,
    yAxisIndex: 0,
    data: s.data,
    showSymbol: false,
    symbol: 'none',
    clip: true,
    silent: true,
    lineStyle: { color: s.color, width: 1.8, join: 'round' }
  }))
});

// Text helper: horizontally stretched sans text anchored at (x, y)
function label(text, x, y, size, align, sx) {
  return {
    type: 'text', x: x, y: y, scaleX: sx, z: 50,
    style: {
      text: text, fill: '#000',
      font: size + 'px "Liberation Sans", Arial, sans-serif',
      align: align, textAlign: align,
      verticalAlign: 'middle', textVerticalAlign: 'middle'
    }
  };
}

function arrow(x1, y1, x2, y2, dotted) {
  const dx = x2 - x1, dy = y2 - y1;
  const len = Math.sqrt(dx * dx + dy * dy);
  const ux = dx / len, uy = dy / len;
  const head = 16, half = 7;
  const bx = x2 - ux * head, by = y2 - uy * head;
  const nx = -uy, ny = ux;
  return [
    {
      type: 'line', z: 60,
      shape: { x1: x1, y1: y1, x2: bx + ux, y2: by + uy },
      style: dotted
        ? { stroke: '#000', lineWidth: 1.8, lineDash: [1.6, 1.9] }
        : { stroke: '#000', lineWidth: 2 }
    },
    {
      type: 'polygon', z: 60,
      shape: { points: [[x2, y2], [bx + nx * half, by + ny * half], [bx - nx * half, by - ny * half]] },
      style: { fill: '#000' }
    }
  ];
}

const gfx = [];

// Tick labels placed through the axis scales
xTicks.forEach((v, i) => {
  const p = chart.convertToPixel({ gridIndex: 0 }, [v, 0]);
  gfx.push(label(xTickLabels[i], p[0], 569, 10.5, 'center', 1.4));
});
yTicks.forEach((v, i) => {
  const p = chart.convertToPixel({ gridIndex: 0 }, [xRange[0], v]);
  gfx.push(label(yTickLabels[i], 397, p[1], 10.5, 'right', 1.4));
});

// Exponent markers and title
gfx.push(label('x 10', 402, 18, 9.5, 'left', 1.3));
gfx.push(label('4', 427, 14, 7, 'left', 1.3));
gfx.push(label('x 10', 1641, 585, 9.5, 'left', 1.3));
gfx.push(label('4', 1666, 580, 7, 'left', 1.3));
gfx.push(label(chartTitle, 1044, 15, 11, 'center', 1.55));

// Callout bubbles
callouts.forEach(c => {
  gfx.push({
    type: 'ellipse', z: 70,
    shape: { cx: c.cx, cy: c.cy, rx: c.rx, ry: c.ry },
    style: { fill: bubbleFill, stroke: '#000', lineWidth: 1.5 }
  });
  c.lines.forEach((t, i) => {
    gfx.push({
      type: 'text', x: c.cx, y: c.lineY[i], z: 71,
      style: {
        text: t, fill: '#000',
        font: '37px "Liberation Sans", Arial, sans-serif',
        align: 'center', textAlign: 'center',
        verticalAlign: 'middle', textVerticalAlign: 'middle'
      }
    });
  });
});

solidArrows.forEach(a => arrow(a[0], a[1], a[2], a[3], false).forEach(e => gfx.push(e)));
dottedArrows.forEach(a => arrow(a[0], a[1], a[2], a[3], true).forEach(e => gfx.push(e)));

chart.setOption({ graphic: { elements: gfx } });
</script>
</body>
</html>
